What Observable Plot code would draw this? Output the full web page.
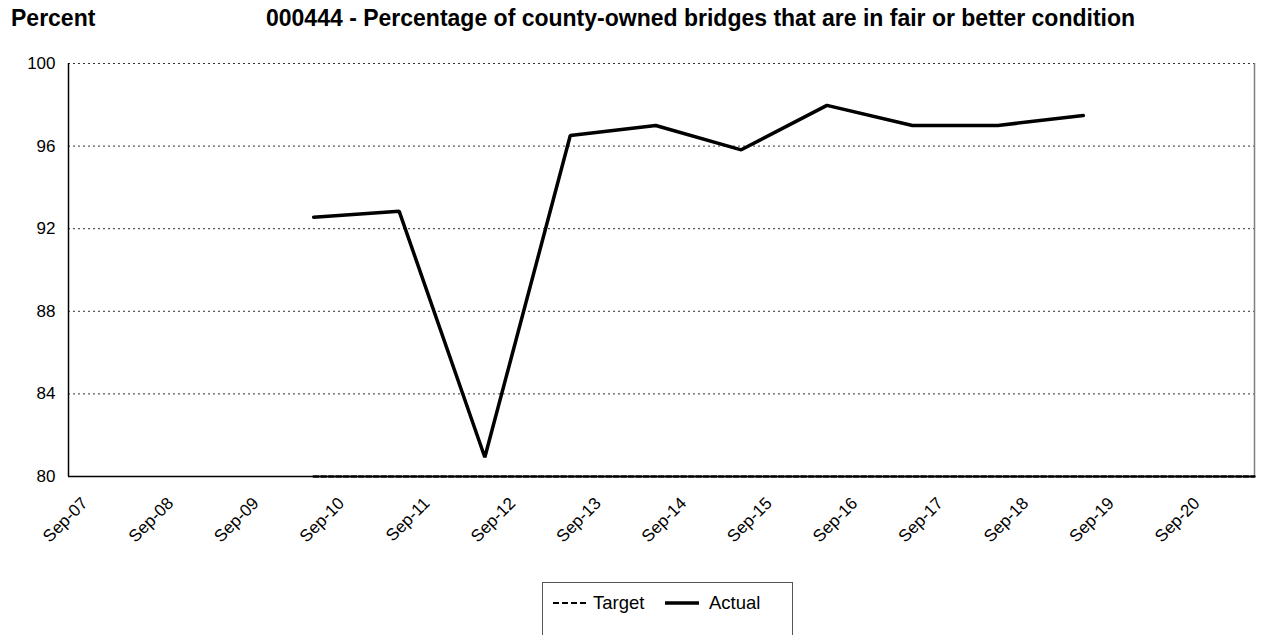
<!DOCTYPE html>
<html>
<head>
<meta charset="utf-8">
<script src="https://cdn.jsdelivr.net/npm/d3@7"></script>
<script src="https://cdn.jsdelivr.net/npm/@observablehq/plot@0.6"></script>
<style>
  html, body { margin: 0; padding: 0; background: #fff; }
  body { font-family: "Liberation Sans", Arial, sans-serif; }
  #wrap { position: relative; width: 1274px; height: 635px; overflow: hidden; }
  .ttl { position: absolute; top: 4px; font-weight: bold; font-size: 23px; line-height: 28px; color: #000; white-space: nowrap; }
  #legend { position: absolute; left: 542px; top: 582px; width: 251px; height: 60px; border: 1px solid #555; box-sizing: border-box; background: #fff; }
  #legend svg { position: absolute; left: 0; top: 0; }
</style>
</head>
<body>
<div id="wrap">
  <div id="chart"></div>
  <div class="ttl" style="left:11px">Percent</div>
  <div class="ttl" style="left:266px">000444 - Percentage of county-owned bridges that are in fair or better condition</div>
  <div id="legend"></div>
</div>
<script>
const actualDates = ["2010-06-30","2011-06-30","2012-06-30","2013-06-30","2014-06-30","2015-06-30","2016-06-30","2017-06-30","2018-06-30","2019-06-30"];
const actualValues = [92.56, 92.85, 80.93, 96.51, 97.0, 95.82, 97.97, 97.0, 97.0, 97.48];
const targetDates = ["2010-06-30","2011-06-30","2012-06-30","2013-06-30","2014-06-30","2015-06-30","2016-06-30","2017-06-30","2018-06-30","2019-06-30","2020-06-30","2021-06-30"];
const targetValues = [80,80,80,80,80,80,80,80,80,80,80,80];
const tickDates = ["2007-09-01","2008-09-01","2009-09-01","2010-09-01","2011-09-01","2012-09-01","2013-09-01","2014-09-01","2015-09-01","2016-09-01","2017-09-01","2018-09-01","2019-09-01","2020-09-01"];
const yTicks = [80, 84, 88, 92, 96, 100];
const xDomain = ["2007-08-18", "2021-06-30"];

const actual = actualDates.map((d, i) => ({date: new Date(d), value: actualValues[i]}));
const target = targetDates.map((d, i) => ({date: new Date(d), value: targetValues[i]}));
const ticks = tickDates.map(d => new Date(d));

const chart = Plot.plot({
  width: 1274,
  height: 560,
  marginLeft: 68,
  marginRight: 20,
  marginTop: 63,
  marginBottom: 84,
  style: {fontFamily: "'Liberation Sans', Arial, sans-serif", fontSize: "17px", color: "#000", background: "#fff"},
  x: {type: "utc", domain: xDomain.map(d => new Date(d))},
  y: {domain: [80, 100]},
  marks: [
    Plot.ruleY(yTicks.filter(v => v > 80), {stroke: "#000", strokeWidth: 1, strokeDasharray: "2,3", strokeOpacity: 0.8}),
    Plot.ruleX([new Date(xDomain[1])], {stroke: "#808080", strokeWidth: 1.5}),
    Plot.ruleY([80], {stroke: "#000", strokeWidth: 1.5}),
    Plot.ruleX([new Date(xDomain[0])], {stroke: "#000", strokeWidth: 1.5}),
    Plot.axisY({ticks: yTicks, tickSize: 0, tickPadding: 13, label: null, fontSize: 17}),
    Plot.axisX({ticks: ticks, tickSize: 0, tickFormat: d3.utcFormat("%b-%y"), tickRotate: -45, tickPadding: 24, dx: 13, label: null, fontSize: 17}),
    Plot.line(target, {x: "date", y: "value", stroke: "#000", strokeWidth: 2.5, strokeDasharray: "5,2.5"}),
    Plot.line(actual, {x: "date", y: "value", stroke: "#000", strokeWidth: 3.5, strokeLinejoin: "miter"})
  ]
});
document.getElementById("chart").appendChild(chart);

const legendItems = [
  {name: "Target", dash: "6,3", width: 2.2, x0: 10, x1: 46, tx: 50},
  {name: "Actual", dash: null, width: 3.5, x0: 122, x1: 156, tx: 166}
];
const lg = d3.select("#legend").append("svg").attr("width", 251).attr("height", 60);
legendItems.forEach(it => {
  const l = lg.append("line").attr("x1", it.x0).attr("x2", it.x1).attr("y1", 20).attr("y2", 20)
    .attr("stroke", "#000").attr("stroke-width", it.width);
  if (it.dash) l.attr("stroke-dasharray", it.dash);
  lg.append("text").attr("x", it.tx).attr("y", 26).text(it.name)
    .attr("font-family", "'Liberation Sans', Arial, sans-serif").attr("font-size", 18.5);
});
</script>
</body>
</html>
